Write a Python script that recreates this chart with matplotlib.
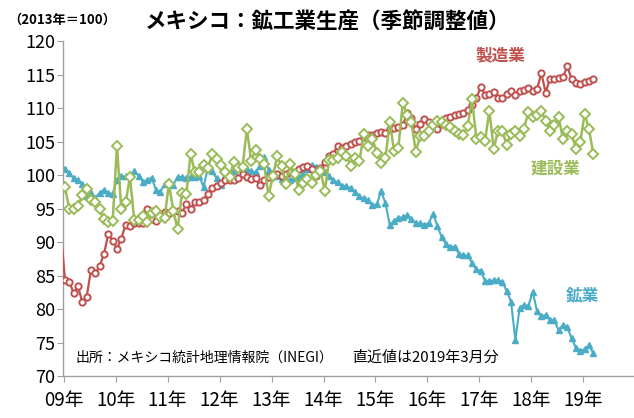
import numpy as np
import matplotlib
matplotlib.use("Agg")
import matplotlib.pyplot as plt

plt.rcParams['font.family'] = ['Noto Sans CJK JP', 'DejaVu Sans']

# monthly, Dec 2008 .. Mar 2019 (first value is the clipped Dec 2008 point)
year_labels = ['09年', '10年', '11年', '12年', '13年', '14年', '15年', '16年', '17年', '18年', '19年']

manufacturing = [
    92.0,
    84.3, 84.0, 82.4, 83.4, 81.0, 81.8, 85.8, 85.3, 86.4, 88.2, 91.2, 90.2,
    89.0, 90.5, 92.6, 92.4, 92.9, 92.8, 92.9, 95.0, 93.4, 93.1, 93.8, 94.5,
    94.4, 94.6, 94.7, 94.4, 95.6, 95.0, 96.0, 95.9, 96.2, 97.2, 98.0, 98.4,
    98.8, 99.3, 99.2, 99.3, 99.6, 100.1, 99.7, 99.4, 99.5, 98.5, 99.2, 99.7,
    100.1, 100.2, 99.9, 100.2, 100.4, 100.5, 100.9, 101.2, 101.4, 100.9, 99.8, 101.0,
    101.9, 102.9, 103.2, 104.4, 104.1, 104.4, 104.7, 105.0, 105.1, 105.6, 105.9, 105.9,
    106.2, 106.4, 106.2, 106.8, 107.0, 107.1, 107.4, 109.2, 108.5, 106.9, 107.6, 108.3,
    107.9, 107.6, 106.9, 107.6, 108.5, 108.7, 108.9, 109.1, 109.3, 109.7, 110.4, 111.5,
    113.1, 112.0, 112.1, 112.4, 111.5, 111.5, 112.1, 112.5, 112.0, 112.6, 112.7, 113.0,
    112.5, 112.8, 115.2, 112.3, 114.4, 114.4, 114.5, 114.6, 116.2, 114.3, 113.8, 113.6,
    113.9, 114.0, 114.3,
]

construction = [
    np.nan,
    98.2, 94.9, 95.0, 95.3, 97.0, 97.9, 96.2, 95.9, 94.9, 93.4, 93.0, 93.1,
    104.3, 94.9, 95.9, 99.7, 93.3, 93.3, 93.9, 93.0, 94.4, 94.7, 93.8, 93.6,
    98.7, 94.7, 91.9, 97.3, 97.1, 103.1, 100.4, 100.4, 101.5, 101.0, 103.1, 102.4,
    101.5, 100.5, 99.7, 102.0, 101.1, 101.2, 106.9, 102.1, 103.8, 102.4, 101.6, 96.9,
    99.8, 102.8, 101.3, 98.7, 101.6, 100.2, 97.8, 98.8, 99.4, 98.8, 100.0, 100.6,
    97.6, 102.3, 102.2, 102.6, 103.5, 102.8, 101.4, 102.5, 102.1, 106.1, 104.4, 105.4,
    103.3, 101.8, 102.6, 107.9, 103.6, 104.1, 110.8, 109.0, 107.9, 103.5, 105.8, 105.8,
    106.5, 107.5, 108.1, 107.9, 107.4, 107.1, 106.6, 106.1, 106.0, 107.3, 111.3, 105.4,
    105.6, 105.1, 109.6, 103.9, 106.6, 106.6, 104.5, 106.1, 106.5, 105.8, 106.9, 109.4,
    108.6, 108.9, 109.6, 108.1, 106.6, 107.4, 108.6, 105.4, 106.6, 106.1, 103.9, 105.0,
    109.1, 106.9, 103.1,
]

mining = [
    101.5,
    100.9, 100.3, 99.5, 99.2, 98.7, 96.9, 97.3, 96.6, 97.3, 97.8, 97.3, 97.2,
    99.3, 99.8, 99.8, 100.0, 100.6, 99.9, 99.0, 99.2, 99.6, 97.8, 97.5, 98.6,
    98.9, 98.5, 99.7, 99.7, 99.5, 99.7, 99.7, 99.9, 98.2, 101.1, 100.6, 99.5,
    98.5, 100.0, 100.3, 100.6, 101.0, 101.1, 100.9, 100.6, 100.4, 101.4, 102.7, 100.8,
    100.3, 99.9, 99.4, 99.2, 99.3, 99.5, 99.7, 100.2, 100.9, 101.5, 101.2, 100.8,
    100.5, 99.8, 99.2, 98.9, 98.4, 98.3, 98.0, 97.4, 96.8, 96.5, 96.2, 95.5,
    95.6, 97.6, 95.8, 92.5, 93.2, 93.6, 93.7, 94.0, 93.5, 92.8, 92.8, 92.6,
    92.8, 94.2, 92.4, 90.7, 89.7, 89.3, 89.3, 88.2, 88.0, 88.0, 86.9, 85.9,
    85.7, 84.2, 84.2, 84.3, 84.3, 84.0, 82.7, 81.1, 75.4, 80.2, 80.6, 80.4,
    82.6, 79.7, 78.9, 79.1, 78.4, 78.3, 76.8, 77.6, 77.3, 75.6, 74.2, 73.8,
    74.0, 74.6, 73.4,
]

months = np.arange(len(manufacturing)) - 1  # 0 = Jan 2009
shown = slice(1, None)  # no marker on the clipped Dec 2008 point

red = '#C0504D'
green = '#9BBB59'
blue = '#4BACC6'

fig = plt.figure(figsize=(6.34, 4.18), dpi=100)
ax = fig.add_axes([63 / 634, 1 - 376 / 418, 1 - 63 / 634, 335 / 418])

ax.plot(months, mining, color=blue, lw=1.5, marker='^', ms=5, mfc=blue, mec=blue,
        markevery=shown, zorder=2)
ax.plot(months, manufacturing, color=red, lw=1.6, marker='o', ms=4.5, mfc='white', mec=red, mew=1.4,
        markevery=shown, zorder=3)
ax.plot(months, construction, color=green, lw=1.8, marker='D', ms=5.2, mfc='white', mec=green, mew=1.4,
        zorder=4)

ax.set_xlim(-0.46, 131.4)
ax.set_ylim(70, 120)
ax.set_yticks(np.arange(70, 121, 5))
ax.set_xticks([12 * k - 0.3 for k in range(len(year_labels))])
ax.set_xticklabels(year_labels)

for s in ['top', 'right']:
    ax.spines[s].set_visible(False)
for s in ['left', 'bottom']:
    ax.spines[s].set_color('#a0a0a0')
    ax.spines[s].set_linewidth(1.0)
ax.tick_params(axis='y', colors='#a0a0a0', labelcolor='black', labelsize=13, length=4.5, pad=1)
ax.tick_params(axis='x', colors='#a0a0a0', labelcolor='black', labelsize=13.5, length=4, pad=6)

# series labels
ax.text(100.5, 117.7, '製造業', color=red, fontsize=12, fontweight='bold', ha='center', va='center')
ax.text(113.2, 100.9, '建設業', color=green, fontsize=12, fontweight='bold', ha='center', va='center')
ax.text(119.6, 82.0, '鉱業', color=blue, fontsize=12, fontweight='bold', ha='center', va='center')

# notes
ax.text(2.3, 72.75, '出所：メキシコ統計地理情報院（INEGI）', fontsize=10, ha='left', va='center')
ax.text(66.3, 72.75, '直近値は2019年3月分', fontsize=10.8, ha='left', va='center')

fig.text(8 / 634, 1 - 20 / 418, '（2013年＝100）', fontsize=9.5, fontweight='bold', ha='left', va='center')
fig.text(145 / 634, 1 - 22 / 418, 'メキシコ：鉱工業生産（季節調整値）', fontsize=15.5, fontweight='bold',
         ha='left', va='center')

fig.savefig('out.png', dpi=100)
